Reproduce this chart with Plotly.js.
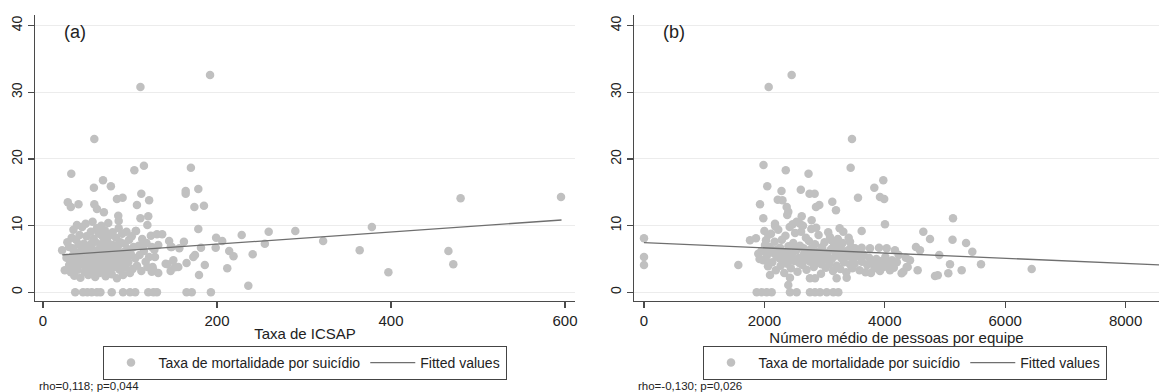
<!DOCTYPE html>
<html><head><meta charset="utf-8">
<script src="https://cdn.plot.ly/plotly-3.0.1.min.js"></script>
<style>html,body{margin:0;padding:0;background:#fff}#chart{width:1159px;height:392px}</style>
</head><body><div id="chart"></div>
<script>
// ---------- Panel (a): Taxa de ICSAP vs taxa de mortalidade por suicídio ----------
const icsapX = [
 22,25,27,28,30,30,32,33,34,35,36,37,38,38,39,40,41,42,43,44,45,45,46,47,48,49,50,50,51,52,
 53,54,55,55,56,57,58,58,59,60,60,61,62,63,63,64,65,65,66,67,68,68,69,70,70,71,72,72,73,74,
 75,75,76,77,78,78,79,80,80,81,82,83,84,85,85,86,87,88,88,89,90,91,92,92,93,94,95,96,97,98,
 99,100,101,102,103,104,106,107,108,110,111,113,114,116,118,119,122,124,126,128,
 31,34,36,39,41,43,44,47,49,52,53,56,57,59,61,62,64,66,67,69,71,73,74,76,77,79,81,83,84,86,
 87,89,90,93,95,97,
 192,112,59,32.5,69,58.5,78,105,116,113,170,164,164,178.5,85,91.5,122,28.5,32,40.8,
 59,62,70,86.5,87,108,174,185,112,121,120,178.5,106.5,131,137,145,162,199,206,214,
 219,181.6,198.5,156.7,148,132.5,125,115,128.7,143,151.7,155.5,165,174.7,186,179.3,211.8,120,126.8,132.5,
 228.4,241,259.4,255,290,236,146.8,172.8,149.8,141,146.7,125,378,322,364,466,471.6,397,480,595.4,
 37,46,51,56,62,66,79,92,100,106,121,127,131,165,171,193
];
const icsapY = [
 6.3,3.3,5.2,7.5,4.1,6.8,3.0,8.2,5.5,9.4,2.5,6.1,4.6,7.9,10.1,3.4,5.9,8.6,2.2,6.9,4.2,9.8,5.0,7.3,3.1,10.3,6.2,8.4,4.7,2.6,
 7.0,5.4,9.1,3.6,6.6,10.6,4.4,8.0,5.8,2.3,7.6,3.9,9.6,6.3,4.9,8.8,2.9,5.6,7.2,10.0,4.1,6.0,8.3,3.2,5.1,9.3,6.8,2.4,4.6,7.7,
 5.9,10.4,3.5,8.6,6.4,4.3,2.7,7.1,9.0,5.3,3.8,6.9,8.2,4.8,2.1,6.2,9.6,5.5,3.4,7.5,4.2,8.8,6.0,2.6,5.0,7.3,3.7,9.1,6.5,4.5,
 7.9,2.9,5.7,8.4,3.5,6.8,5.1,9.2,4.0,7.0,5.6,3.2,8.0,6.2,4.6,7.4,5.3,8.5,3.8,6.4,
 4.8,6.6,3.9,5.2,7.2,4.4,5.7,6.5,3.8,5.1,4.0,7.4,3.2,6.1,4.7,5.3,3.6,6.7,4.5,5.5,7.4,3.9,6.2,4.9,5.7,3.9,6.4,4.6,5.6,3.8,
 7.1,4.9,5.7,4.0,6.1,5.2,
 32.6,30.8,23.0,17.8,16.8,15.7,15.9,18.3,19.0,14.8,18.7,15.2,14.8,15.5,14.0,14.2,13.8,13.5,12.8,13.2,
 13.2,12.5,12.0,11.5,10.7,13.1,12.8,13.0,11.1,11.4,10.1,9.5,9.2,8.7,8.7,7.7,7.6,8.2,7.7,6.2,
 5.4,6.7,6.7,6.6,6.8,7.1,6.8,6.8,5.3,4.2,3.75,3.8,4.4,5.6,4.1,2.6,3.6,3.8,3.3,2.9,
 8.6,5.7,9.1,7.3,9.2,1.0,6.8,5.3,4.8,4.3,3.2,3.1,9.8,7.7,6.3,6.2,4.2,3.0,14.1,14.3,
 0,0,0,0,0,0,0,0,0,0,0,0,0,0,0,0
];
const fitAX = [22, 596];
const fitAY = [5.6, 10.85];

// ---------- Panel (b): Número médio de pessoas por equipe ----------
const pessoasX = [
 2071,2453,3455,3433,1985,2355,2733,2048,2284,2605,2750,2835,3555,3826,2222,2300,3128,3975,3920,3990,
 1927,2370,2397,2380,2857,2912,3189,1982,2620,2176,2536,2591,2785,1761,1860,2065,2027,1899,2093,2397,
 3311,3090,3118,3422,3560,0,0,0,1567,2425,2757,2841,3200,3367,4003,3616,5133,4640,4751,5125,
 4518,4585,4905,5350,5454,5083,5277,4834,4880,5055,4546,4086,4280,4419,4350,4380,5598,6440,3505,3616,
 3754,3904,4031,4169,4308,4363,
 1950,1980,2010,2040,2060,2090,2110,2130,2150,2170,2190,2210,2230,2250,2270,2290,2310,2330,2350,2360,
 2380,2400,2420,2440,2460,2480,2500,2510,2530,2550,2570,2590,2610,2630,2650,2670,2690,2700,2720,2740,
 2760,2780,2800,2820,2840,2860,2880,2900,2920,2940,2960,2980,3000,3020,3040,3060,3080,3100,3120,3140,
 3160,3180,3200,3220,3240,3260,3280,3300,3320,3340,3360,3380,3400,3420,3440,3460,3480,3500,3540,3580,
 3620,3650,3680,3710,3740,3770,3800,3830,3860,3890,3920,3950,3980,4010,4050,4120,4150,4200,4230,
 2180,2470,2860,3250,2000,2640,
 1920,2020,2080,2140,2200,2260,2320,2390,2450,2520,2580,2660,2710,2770,2830,2890,2950,3010,3070,3130,
 3190,3270,3330,3390,3450,
 1872,1955,2038,2121,2425,2536,2757,2841,2924,3035,3145,3228
];
const pessoasY = [
 30.8,32.6,23.0,18.7,19.1,18.3,17.8,15.9,15.2,15.4,14.8,14.8,14.2,15.7,13.9,13.8,13.6,16.8,14.3,14.0,
 13.2,12.8,12.1,11.6,12.8,13.1,12.3,11.1,11.4,10.3,10.6,10.3,10.8,7.8,8.1,8.6,7.8,5.8,2.6,1.1,
 9.1,8.3,7.8,7.6,6.1,8.1,5.3,4.1,4.1,2.2,2.1,2.1,2.1,2.2,10.2,9.2,11.1,9.1,8.0,7.9,
 6.8,6.3,5.6,7.4,6.1,4.2,3.3,2.45,2.55,2.85,3.3,3.3,2.85,4.8,5.2,3.8,4.2,3.5,6.6,6.7,
 6.6,6.7,6.6,6.3,3.1,3.8,
 6.2,4.8,7.1,5.5,3.9,6.8,8.8,4.5,5.9,7.6,3.3,6.4,9.4,5.1,4.0,7.9,6.0,2.9,8.5,5.4,
 4.3,6.9,9.8,3.6,5.8,7.4,4.7,8.9,6.3,3.1,5.2,7.0,9.1,4.1,6.6,5.0,8.2,3.4,6.1,7.7,
 4.6,9.5,5.6,3.8,7.2,6.0,4.4,8.6,5.3,2.8,6.8,4.9,7.5,3.7,5.7,9.0,4.2,6.4,5.0,3.2,
 7.1,5.5,4.0,8.0,6.2,3.5,5.1,7.4,4.5,6.0,3.0,5.4,8.2,4.2,6.8,3.6,5.0,4.3,5.4,3.3,
 4.6,5.6,3.0,4.1,5.2,2.9,4.4,3.6,5.0,4.0,3.2,4.7,3.8,5.3,4.2,4.8,3.7,4.5,5.6,
 9.9,10.2,9.7,9.6,9.2,10.0,
 5.0,6.0,4.4,6.3,5.4,6.7,4.6,5.9,4.9,6.6,4.4,5.8,4.9,6.5,5.0,6.1,4.2,5.9,5.1,6.6,
 5.8,6.9,5.3,6.3,5.6,
 0,0,0,0,0,0,0,0,0,0,0,0
];
const fitBX = [0, 8555];
const fitBY = [7.45, 4.1];

const yTicks = [0, 10, 20, 30, 40];
const xTicksA = [0, 200, 400, 600];
const xTicksB = [0, 2000, 4000, 6000, 8000];

const seriesName = 'Taxa de mortalidade por suicídio';
const fitName = 'Fitted values';

// ---------- Styling / layout ----------
const W = 1159, H = 392;
const fx = v => v / W, fy = v => 1 - v / H;
const FONT = 'Liberation Sans, Arial, Helvetica, sans-serif';
const PT = '#c0c0c0', LN = '#6f6f6f', AX = '#4a4a4a';

const traces = [
  {type:'scatter', mode:'markers', x:icsapX, y:icsapY, name:seriesName, xaxis:'x', yaxis:'y', legend:'legend',
   marker:{color:PT, size:8.5, line:{width:0}}},
  {type:'scatter', mode:'lines', x:fitAX, y:fitAY, name:fitName, xaxis:'x', yaxis:'y', legend:'legend',
   line:{color:LN, width:1.3}},
  {type:'scatter', mode:'markers', x:pessoasX, y:pessoasY, name:seriesName, xaxis:'x2', yaxis:'y2', legend:'legend2',
   marker:{color:PT, size:8.5, line:{width:0}}},
  {type:'scatter', mode:'lines', x:fitBX, y:fitBY, name:fitName, xaxis:'x2', yaxis:'y2', legend:'legend2',
   line:{color:LN, width:1.3}}
];

const xBase = {ticks:'outside', ticklen:6, tickwidth:1.2, tickcolor:AX, showline:true, linecolor:AX, linewidth:1.5,
  showgrid:false, zeroline:false, tickfont:{size:15, color:'#222'}, fixedrange:true};
const yBase = {ticks:'outside', ticklen:6, tickwidth:1.2, tickcolor:AX, showline:true, linecolor:AX, linewidth:1.5,
  showgrid:true, gridcolor:'#ececec', gridwidth:1, zeroline:false, tickvals:yTicks, tickangle:-90,
  tickfont:{size:14, color:'#222'}, range:[-1.26, 41.6], fixedrange:true};

const legBase = {orientation:'h', xanchor:'center', yanchor:'top', bordercolor:'#444', borderwidth:1,
  bgcolor:'#fff', font:{size:14, color:'#222'}, itemwidth:45, traceorder:'normal'};

const layout = {
  width:W, height:H, margin:{l:0, r:0, t:0, b:0, pad:0},
  paper_bgcolor:'#fff', plot_bgcolor:'#fff', showlegend:true,
  font:{family:FONT, color:'#222', size:14},
  xaxis:Object.assign({}, xBase, {domain:[fx(35), fx(575)], range:[-9.2, 611.5], tickvals:xTicksA, anchor:'y',
    title:{text:'Taxa de ICSAP', font:{size:15, color:'#222'}, standoff:0}}),
  yaxis:Object.assign({}, yBase, {domain:[fy(300.7), fy(15)], anchor:'x'}),
  xaxis2:Object.assign({}, xBase, {domain:[fx(634), fx(1159)], range:[-166, 8555], tickvals:xTicksB, anchor:'y2',
    title:{text:'Número médio de pessoas por equipe', font:{size:15, color:'#222'}, standoff:0}}),
  yaxis2:Object.assign({}, yBase, {domain:[fy(300.7), fy(15)], anchor:'x2'}),
  legend:Object.assign({}, legBase, {x:fx(304.5), y:fy(346)}),
  legend2:Object.assign({}, legBase, {x:fx(904.5), y:fy(346)}),
  annotations:[
    {text:'(a)', xref:'paper', yref:'paper', x:fx(62), y:fy(32), xanchor:'left', yanchor:'middle', showarrow:false, font:{size:18, color:'#222'}},
    {text:'(b)', xref:'paper', yref:'paper', x:fx(661), y:fy(32), xanchor:'left', yanchor:'middle', showarrow:false, font:{size:18, color:'#222'}},
    {text:'rho=0,118; p=0,044', xref:'paper', yref:'paper', x:fx(37), y:fy(386), xanchor:'left', yanchor:'middle', showarrow:false, font:{size:11.5, color:'#222'}},
    {text:'rho=-0,130; p=0,026', xref:'paper', yref:'paper', x:fx(636), y:fy(386), xanchor:'left', yanchor:'middle', showarrow:false, font:{size:11.5, color:'#222'}}
  ]
};

Plotly.newPlot('chart', traces, layout, {displayModeBar:false, staticPlot:true});
</script>
</body></html>
